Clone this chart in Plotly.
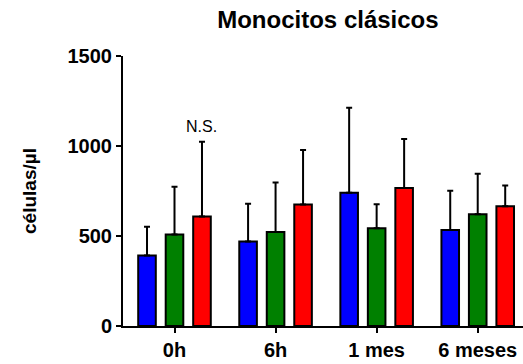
import plotly.graph_objects as go

# Time points and group means / upper SD limits (cells per µl)
categories = ["0h", "6h", "1 mes", "6 meses"]
blue_mean = [392, 470, 740, 534]
blue_upper = [552, 679, 1212, 751]
green_mean = [509, 522, 543, 621]
green_upper = [773, 797, 677, 846]
red_mean = [608, 675, 766, 665]
red_upper = [1024, 978, 1039, 781]
y_ticks = [0, 500, 1000, 1500]

series = [
    (blue_mean, blue_upper, "#0000FF"),
    (green_mean, green_upper, "#008000"),
    (red_mean, red_upper, "#FF0000"),
]

xpos = list(range(len(categories)))
fig = go.Figure()
for mean, upper, color in series:
    fig.add_trace(go.Bar(
        x=xpos,
        y=mean,
        marker=dict(color=color, line=dict(color="black", width=2)),
        error_y=dict(
            type="data",
            symmetric=False,
            array=[u - m for u, m in zip(upper, mean)],
            arrayminus=[0] * len(mean),
            color="black",
            thickness=2,
            width=3,
        ),
        showlegend=False,
    ))

axis_font = dict(family="Arial, Liberation Sans, sans-serif", size=20, color="black")

fig.update_layout(
    width=523,
    height=364,
    margin=dict(l=123, r=0, t=56, b=38),
    paper_bgcolor="white",
    plot_bgcolor="white",
    barmode="group",
    bargap=0.184,
    bargroupgap=0.36,
    font=dict(family="Arial, Liberation Sans, sans-serif", color="black"),
    title=dict(
        text="<b>Monocitos clásicos</b>",
        font=dict(size=24, color="black"),
        x=0.627, xanchor="center",
        y=0.945, yanchor="middle",
    ),
    xaxis=dict(
        range=[-0.5095, 3.448],
        tickmode="array",
        tickvals=xpos,
        ticktext=[f"<b>{c}</b>" for c in categories],
        tickfont=axis_font,
        showline=True, linecolor="black", linewidth=2,
        ticks="outside", ticklen=5, tickwidth=2, tickcolor="black",
        showgrid=False, zeroline=False,
    ),
    yaxis=dict(
        range=[0, 1500],
        tickmode="array",
        tickvals=y_ticks,
        ticktext=[f"<b>{v}</b>" for v in y_ticks],
        tickfont=axis_font,
        showline=True, linecolor="black", linewidth=2,
        ticks="outside", ticklen=5, tickwidth=2, tickcolor="black",
        showgrid=False, zeroline=False,
        title=dict(text="<b>células/µl</b>", font=dict(size=19, color="black"), standoff=26),
    ),
    annotations=[
        dict(
            x=0.272, y=1111, xref="x", yref="y",
            text="N.S.", showarrow=False,
            font=dict(size=16, color="black"),
        )
    ],
)

fig.write_html("out.html")
